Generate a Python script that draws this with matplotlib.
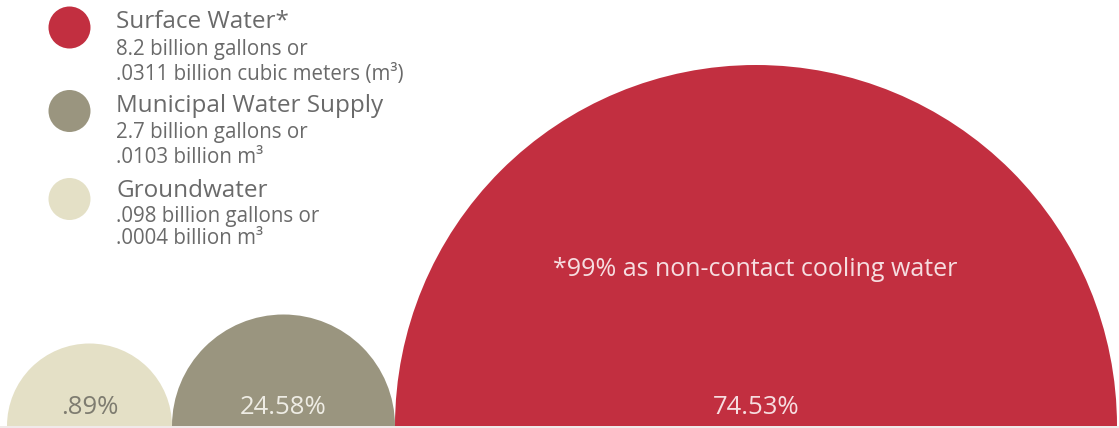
import matplotlib
matplotlib.use("Agg")
import matplotlib.pyplot as plt
from matplotlib.patches import Wedge, Circle

# ---- data -------------------------------------------------------------
sources = ["Groundwater", "Municipal Water Supply", "Surface Water*"]
share_pct = [0.89, 24.58, 74.53]
share_labels = [".89%", "24.58%", "74.53%"]
volume_gallons = [".098 billion gallons or", "2.7 billion gallons or", "8.2 billion gallons or"]
volume_m3 = [".0004 billion m\u00b3", ".0103 billion m\u00b3", ".0311 billion cubic meters (m\u00b3)"]
surface_note = "*99% as non-contact cooling water"

# ---- style ------------------------------------------------------------
colors = ["#E4E0C6", "#9A957F", "#C22F40"]
pct_colors = ["#7E7C70", "#EEECE4", "#F6DDE0"]
dome_radius = [82.5, 111.5, 361.0]   # drawn dome sizes, px
FONT = ["Open Sans", "DejaVu Sans"]
TEXT_GRAY = "#6A6A6A"

W, H = 1119, 428
fig = plt.figure(figsize=(W / 100, H / 100), dpi=100)
ax = fig.add_axes([0, 0, 1, 1])
ax.set_xlim(0, W)
ax.set_ylim(0, H)
ax.axis("off")

base_y = 2.0
left = 7.0
for i, r in enumerate(dome_radius):
    cx = left + r
    ax.add_patch(Wedge((cx, base_y), r, 0, 180, facecolor=colors[i],
                       edgecolor="none", zorder=2 + (i == 2)))
    ax.text(cx, H - 414, share_labels[i], ha="center", va="baseline",
            fontsize=18.5, color=pct_colors[i], family=FONT, zorder=5)
    if i == 2:
        ax.text(cx - 1, H - 276, surface_note, ha="center", va="baseline",
                fontsize=18, color="#F6DDE0", family=FONT, zorder=5)
    left += 2 * r

# faint ground line under the domes
ax.axhline(base_y - 0.5, color="#EDE6E6", lw=1.2, zorder=1)

# ---- legend (top-left), Surface first --------------------------------
legend_rows = [(2, 27.5, [28, 55, 80]),
               (1, 111.0, [112, 138, 163]),
               (0, 199.0, [197, 222, 244])]
for idx, cy, baselines in legend_rows:
    ax.add_patch(Circle((69.5, H - cy), 21, facecolor=colors[idx],
                        edgecolor="none"))
    ax.text(116, H - baselines[0], sources[idx], ha="left", va="baseline",
            fontsize=17.5, color=TEXT_GRAY, family=FONT)
    ax.text(116, H - baselines[1], volume_gallons[idx], ha="left",
            va="baseline", fontsize=14.8, color=TEXT_GRAY, family=FONT)
    ax.text(116, H - baselines[2], volume_m3[idx], ha="left",
            va="baseline", fontsize=14.8, color=TEXT_GRAY, family=FONT)

ax.set_aspect("equal")
fig.savefig("out.png", dpi=100)
